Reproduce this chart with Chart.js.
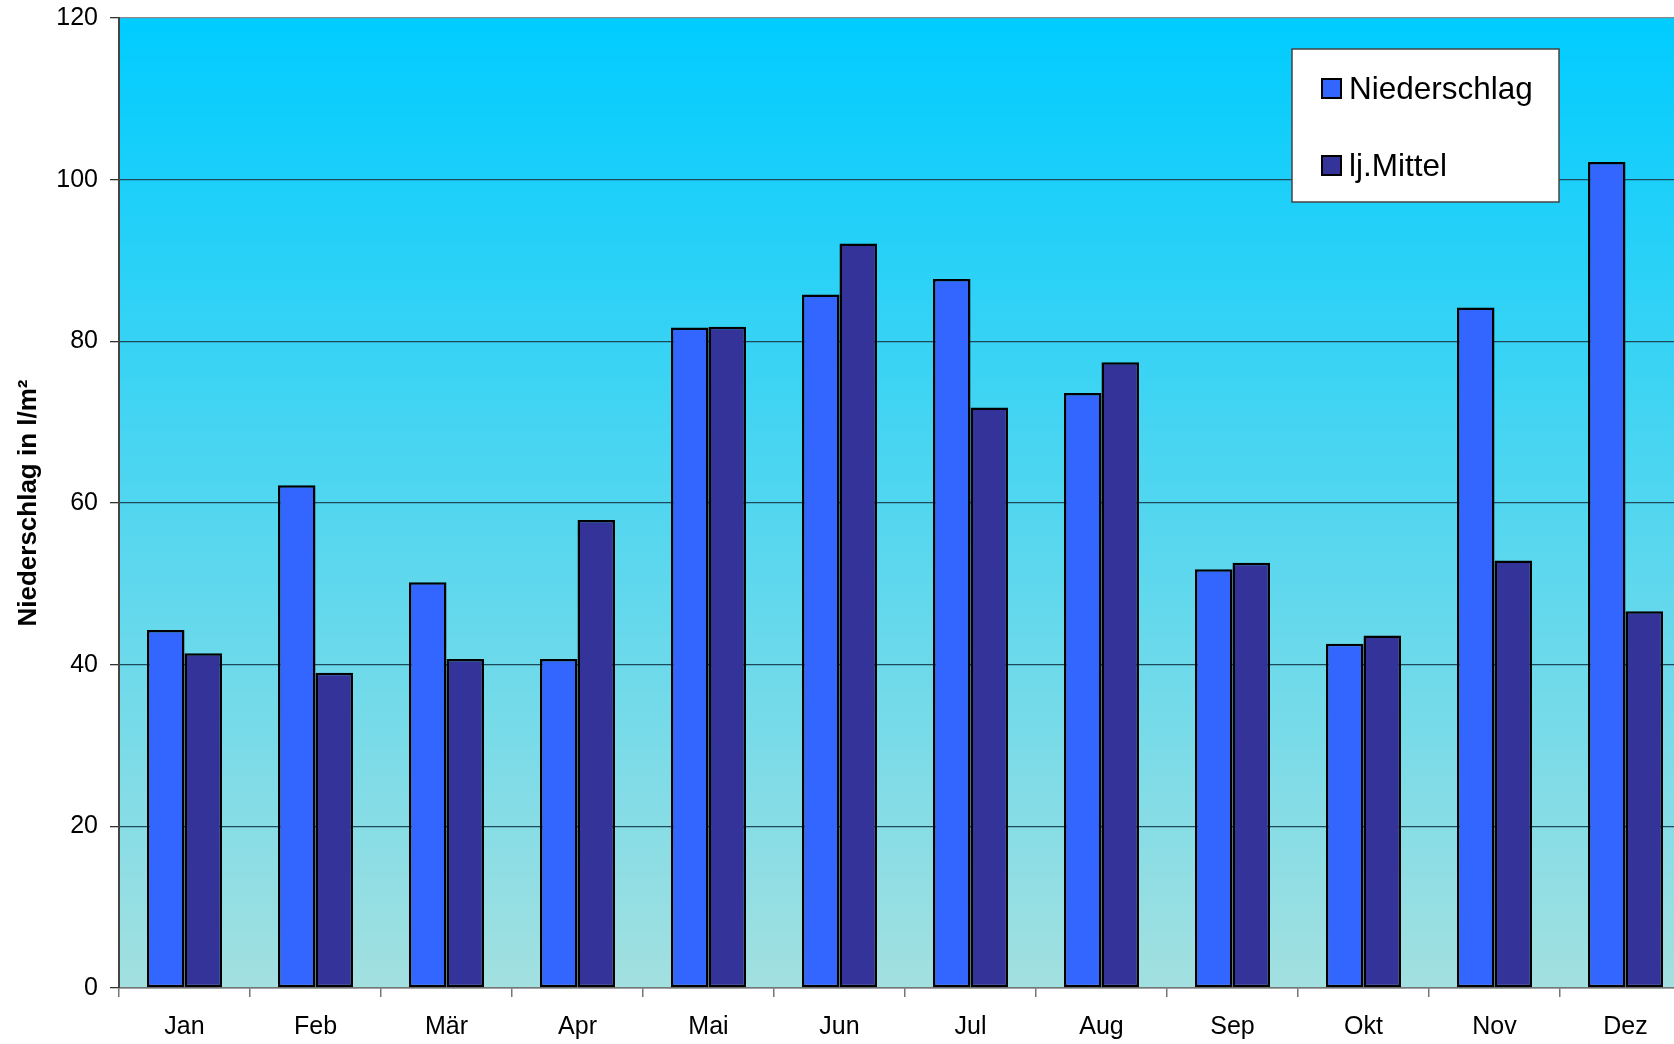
<!DOCTYPE html>
<html><head><meta charset="utf-8">
<script src="https://cdn.jsdelivr.net/npm/chart.js@4.4.1/dist/chart.umd.min.js"></script>
<style>
html,body{margin:0;padding:0;background:#fff;overflow:hidden;width:1674px;height:1044px;}
#wrap{position:absolute;left:0;top:0;width:1700px;height:1044px;}
</style></head><body>
<div id="wrap"><canvas id="c" width="1700" height="1044"></canvas></div>
<script>
const categories = ['Jan','Feb','Mär','Apr','Mai','Jun','Jul','Aug','Sep','Okt','Nov','Dez'];
const niederschlag = [44.3, 62.2, 50.2, 40.7, 81.7, 85.8, 87.7, 73.6, 51.8, 42.6, 84.2, 102.2];
const ljMittel = [41.4, 39.0, 40.7, 57.9, 81.8, 92.1, 71.8, 77.4, 52.6, 43.6, 52.9, 46.6];
const seriesNames = ['Niederschlag', 'lj.Mittel'];
const yTitle = 'Niederschlag in l/m²';
const yMin = 0, yMax = 120, yStep = 20;

const FONT = '"Liberation Sans", Arial, sans-serif';

const bgPlugin = {
  id: 'bg',
  beforeDraw(chart) {
    const {ctx, chartArea: a} = chart;
    const g = ctx.createLinearGradient(0, a.top, 0, a.bottom);
    g.addColorStop(0, '#00CCFF');
    g.addColorStop(1, '#A3E0E0');
    ctx.save();
    ctx.fillStyle = g;
    ctx.fillRect(a.left, a.top, a.right - a.left, a.bottom - a.top);
    ctx.restore();
  }
};

const legendPlugin = {
  id: 'boxLegend',
  afterDraw(chart) {
    const ctx = chart.ctx;
    const x0 = 1292, y0 = 49, w = 267, h = 153;
    ctx.save();
    ctx.fillStyle = '#fff';
    ctx.fillRect(x0, y0, w, h);
    ctx.strokeStyle = '#444';
    ctx.lineWidth = 1.5;
    ctx.strokeRect(x0, y0, w, h);
    const ys = [89, 166];
    chart.data.datasets.forEach((ds, i) => {
      const cy = ys[i];
      ctx.fillStyle = ds.backgroundColor;
      ctx.fillRect(1322, cy - 10, 19, 19);
      ctx.strokeStyle = '#000';
      ctx.lineWidth = 2;
      ctx.strokeRect(1322, cy - 10, 19, 19);
      ctx.fillStyle = '#000';
      ctx.font = '31.5px ' + FONT;
      ctx.textBaseline = 'middle';
      ctx.textAlign = 'left';
      ctx.fillText(ds.label, 1349, cy + 1);
    });
    ctx.restore();
  }
};

new Chart(document.getElementById('c'), {
  type: 'bar',
  data: {
    labels: categories,
    datasets: [
      {label: seriesNames[0], data: niederschlag, backgroundColor: '#3366FF', borderColor: '#000', borderWidth: 2.5, borderSkipped: false},
      {label: seriesNames[1], data: ljMittel, backgroundColor: '#333399', borderColor: '#000', borderWidth: 2.5, borderSkipped: false}
    ]
  },
  options: {
    responsive: false,
    animation: false,
    devicePixelRatio: 1,
    layout: {padding: {left: 0, top: 18, right: 9, bottom: 0}},
    datasets: {bar: {categoryPercentage: 0.573, barPercentage: 1.0}},
    plugins: {legend: {display: false}, tooltip: {enabled: false}},
    scales: {
      x: {
        offset: true,
        grid: {display: true, drawOnChartArea: false, offset: true, color: '#777', tickLength: 9, lineWidth: 1.5},
        border: {display: true, color: '#777', width: 1.5},
        ticks: {color: '#000', font: {family: FONT, size: 25}, padding: 15},
        afterFit(s) { s.height = 56; s.paddingLeft = 0; s.paddingRight = 0; }
      },
      y: {
        min: yMin, max: yMax,
        ticks: {stepSize: yStep, color: '#000', font: {family: FONT, size: 25}, padding: 12},
        grid: {
          color: (c) => (c.tick && c.tick.value === yMax) ? '#888' : '#1d4a5a',
          lineWidth: 1.3,
          tickLength: 9,
          tickColor: '#333'
        },
        border: {display: true, color: '#444', width: 2},
        title: {display: true, text: yTitle, color: '#000', font: {family: FONT, size: 26, weight: 'bold'}, padding: {top: 13, bottom: 0}},
        afterFit(s) { s.width = 119; s.paddingTop = 0; s.paddingBottom = 0; }
      }
    }
  },
  plugins: [bgPlugin, legendPlugin]
});
</script>
</body></html>
